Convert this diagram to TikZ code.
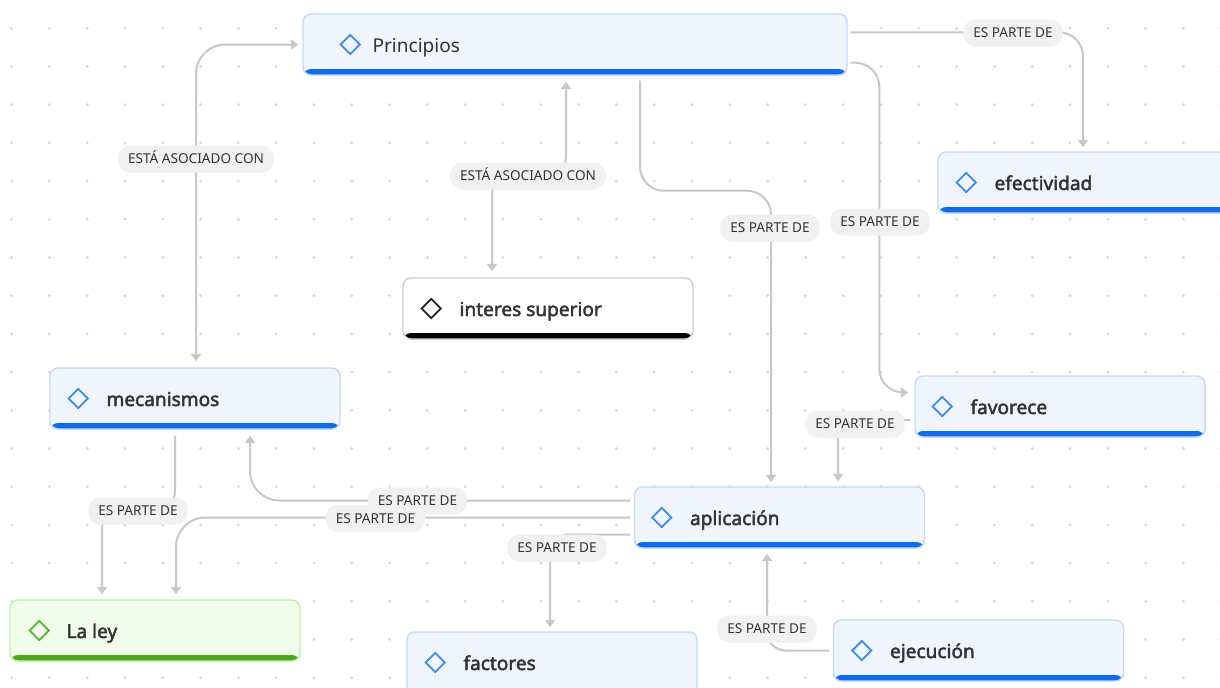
\documentclass[tikz,border=0pt]{standalone}
\usepackage{fontspec}
\setmainfont{Noto Sans}
\newfontfamily\topicfont[FakeBold=2.2]{Noto Sans}
\usetikzlibrary{arrows.meta}
\usetikzlibrary{shapes.geometric, calc, positioning}

\definecolor{bluefill}{HTML}{F0F5FE}
\definecolor{blueborder}{HTML}{C3DAFB}
\definecolor{bluebar}{HTML}{0B6BF5}
\definecolor{blueicon}{HTML}{3C8BF0}
\definecolor{greenfill}{HTML}{F1FCEA}
\definecolor{greenborder}{HTML}{BFF3A4}
\definecolor{greenbar}{HTML}{4BA916}
\definecolor{greenicon}{HTML}{5DB534}
\definecolor{plainfill}{HTML}{FFFFFF}
\definecolor{plainborder}{HTML}{CFCFCF}
\definecolor{plainbar}{HTML}{000000}
\definecolor{plainicon}{HTML}{222222}
\definecolor{linkgray}{HTML}{C8C8C8}
\definecolor{relfill}{HTML}{F1F1F1}
\definecolor{textgray}{HTML}{333333}
\definecolor{dotgray}{HTML}{D9D9D9}

\tikzset{
  topic/.style={draw=#1border, fill=#1fill, line width=1.1pt, rounded corners=6pt,
    minimum width=217.5pt, minimum height=45.75pt, inner sep=0pt,
    path picture={\fill[#1bar] ([yshift=4.5pt]path picture bounding box.south west) rectangle (path picture bounding box.south east);}},
  icon/.style={diamond, draw=#1icon, line width=1.4pt, minimum size=15pt, inner sep=0pt},
  topictext/.style={anchor=base west, inner sep=0pt, text=textgray, font=\topicfont\fontsize{14.3}{17}\selectfont},
  link/.style={draw=linkgray, line width=1.5pt, rounded corners=18pt, -{Triangle[width=7.5pt,length=5.5pt]}},
  rel/.style={fill=relfill, text=textgray, rounded corners=9pt, minimum height=20.25pt,
    inner xsep=7.5pt, inner ysep=0pt, text height=7.2pt, text depth=0pt, font=\fontsize{10.2}{12}\selectfont},
}

\begin{document}
\begin{tikzpicture}[x=0.75pt,y=-0.75pt]
\clip (0,0) rectangle (1220,687);
\fill[white] (0,0) rectangle (1220,687);
% grid
\foreach \i in {0,...,32} {
  \foreach \j in {0,...,17} {
    \fill[dotgray] (11.6+37.8*\i, 28.3+38.2*\j) circle[radius=1.2pt];
  }
}
%%
\node (node_principios) at (575,44.5) [topic=blue, minimum width=408pt] {};
\node (node_efectividad) at (1083,182.5) [topic=blue] {};
\node (node_interes) at (548,308.5) [topic=plain] {};
\node (node_mecanismos) at (195,398.5) [topic=blue] {};
\node (node_favorece) at (1060,406.5) [topic=blue] {};
\node (node_aplicacion) at (779.5,517.5) [topic=blue] {};
\node (node_laley) at (155,630.5) [topic=green] {};
\node (node_factores) at (552,663.5) [topic=blue, minimum height=47.25pt] {};
\node (node_ejecucion) at (978.5,650.5) [topic=blue] {};
%
\node (icon_principios) at ($(node_principios.west)+(48,0)$) [icon=blue] {};
\node (icon_efectividad) at ($(node_efectividad.west)+(29,0)$) [icon=blue] {};
\node (icon_interes) at ($(node_interes.west)+(29,0)$) [icon=plain] {};
\node (icon_mecanismos) at ($(node_mecanismos.west)+(29,0)$) [icon=blue] {};
\node (icon_favorece) at ($(node_favorece.west)+(28,0)$) [icon=blue] {};
\node (icon_aplicacion) at ($(node_aplicacion.west)+(28,0)$) [icon=blue] {};
\node (icon_laley) at ($(node_laley.west)+(30,0)$) [icon=green] {};
\node (icon_factores) at ($(node_factores.west)+(29,-1)$) [icon=blue] {};
\node (icon_ejecucion) at ($(node_ejecucion.west)+(29,0)$) [icon=blue] {};
%
\node (text_principios) at ($(node_principios.west)+(70,7.5)$) [topictext, font=\fontsize{14.3}{17}\selectfont] {Principios};
\node (text_efectividad) at ($(node_efectividad.west)+(57,7.5)$) [topictext] {efectividad};
\node (text_interes) at ($(node_interes.west)+(57,7.5)$) [topictext] {interes superior};
\node (text_mecanismos) at ($(node_mecanismos.west)+(57,7.5)$) [topictext] {mecanismos};
\node (text_favorece) at ($(node_favorece.west)+(56,7.5)$) [topictext] {favorece};
\node (text_aplicacion) at ($(node_aplicacion.west)+(56,7.5)$) [topictext] {aplicación};
\node (text_laley) at ($(node_laley.west)+(57,7.5)$) [topictext] {La ley};
\node (text_factores) at ($(node_factores.west)+(57,6.5)$) [topictext] {factores};
\node (text_ejecucion) at ($(node_ejecucion.west)+(57,7.5)$) [topictext] {ejecución};
%
\draw [link] ($(node_principios.north east)+(3,19)$) -| ($(node_efectividad.north)+(0,-4)$);
\draw [link] ($(node_principios.south east)+(3,-13)$) -| ($(node_favorece.west)+(-35,-14)$) -- ($(node_favorece.west)+(-6,-14)$);
\draw [link] ($(node_principios.south)+(65,5)$) -- ++(0,110) -| ($(node_aplicacion.north)+(-8.5,-4)$);
\draw [link, {Triangle[width=7.5pt,length=5.5pt]}-{Triangle[width=7.5pt,length=5.5pt]}, rounded corners=14pt] ($(node_principios.south)+(-9,6)$) |- ($(node_interes.north)+(-56,-102)$) -- ($(node_interes.north)+(-56,-6)$);
\draw [link, {Triangle[width=7.5pt,length=5.5pt]}-{Triangle[width=7.5pt,length=5.5pt]}, rounded corners=22pt] ($(node_principios.west)+(-4,0)$) -| ($(node_mecanismos.north)+(1,-6)$);
\draw [link, rounded corners=14pt] ($(node_mecanismos.south)+(-20,6)$) |- ($(node_laley.north)+(-53,-89)$) -- ($(node_laley.north)+(-53,-5)$);
\draw [link, rounded corners=22pt] ($(node_aplicacion.west)+(-4,-17)$) -| ($(node_mecanismos.south)+(55,6)$);
\draw [link, rounded corners=22pt] ($(node_aplicacion.west)+(-4,0)$) -| ($(node_laley.north)+(21,-5)$);
\draw [link, rounded corners=14pt] ($(node_aplicacion.west)+(-4,17)$) -| ($(node_factores.north)+(-2,-4)$);
\draw [link, rounded corners=14pt] ($(node_favorece.west)+(-4,13.5)$) -| ($(node_aplicacion.north)+(58.5,-5)$);
\draw [link, rounded corners=14pt] ($(node_ejecucion.west)+(-4,0)$) -| ($(node_aplicacion.south)+(-12.5,5)$);
%
\node (rel_efectividad) at (1013,33) [rel] {ES PARTE DE};
\node (rel_favorece) at (880,222) [rel] {ES PARTE DE};
\node (rel_aplicacion) at (770,228) [rel] {ES PARTE DE};
\node (rel_interes) at (528,176) [rel] {ESTÁ ASOCIADO CON};
\node (rel_mecanismos) at (196,159) [rel] {ESTÁ ASOCIADO CON};
\node (rel_laley) at (138,511) [rel] {ES PARTE DE};
\node (rel_apl_meca) at (417.5,501) [rel] {ES PARTE DE};
\node (rel_apl_ley) at (375.5,518.5) [rel] {ES PARTE DE};
\node (rel_factores) at (557,548) [rel] {ES PARTE DE};
\node (rel_fav_apl) at (855,424) [rel] {ES PARTE DE};
\node (rel_ejecucion) at (767,629) [rel] {ES PARTE DE};
%
\end{tikzpicture}
\end{document}
